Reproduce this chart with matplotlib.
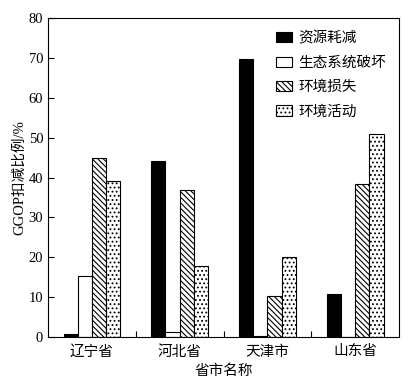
import numpy as np
import matplotlib
matplotlib.use('Agg')
import matplotlib.pyplot as plt

plt.rcParams['font.family'] = ['Liberation Serif', 'Noto Sans CJK SC']
plt.rcParams['hatch.linewidth'] = 0.8

provinces = ['辽宁省', '河北省', '天津市', '山东省']
series = ['资源耗减', '生态系统破坏', '环境损失', '环境活动']
resource = [0.8, 44.2, 69.7, 10.8]
ecology = [15.3, 1.3, 0.2, 0.0]
env_loss = [44.8, 36.8, 10.3, 38.4]
env_act = [39.2, 17.8, 20.1, 51.0]

values = [resource, ecology, env_loss, env_act]
faces = ['black', 'white', 'white', 'white']
hatches = [None, None, '\\' * 6, '....']

fig = plt.figure(figsize=(4.11, 3.86), dpi=100)
ax = fig.add_axes([0.117, 0.127, 0.854, 0.826])

x = np.arange(len(provinces))
w = 0.162
for i, vals in enumerate(values):
    ax.bar(x + (i - 1.5) * w, vals, w, color=faces[i], edgecolor='black',
           hatch=hatches[i], linewidth=0.8, label=series[i])

ax.set_xlim(-0.5, 3.5)
ax.set_ylim(0, 80)
ax.set_yticks(range(0, 81, 10))
ax.set_xticks(x)
ax.set_xticklabels(provinces, fontsize=10.5)
ax.set_xticks([0.5, 1.5, 2.5], minor=True)
ax.tick_params(axis='x', which='major', length=0, pad=6)
ax.tick_params(axis='x', which='minor', direction='in', length=4, width=0.8)
ax.tick_params(axis='y', direction='in', length=4, width=0.8, labelsize=10.5)
for s in ax.spines.values():
    s.set_linewidth(0.8)

ax.set_ylabel('GGOP扣减比例/%', fontsize=10.5, labelpad=2)
ax.set_xlabel('省市名称', fontsize=10.5, labelpad=4)

ax.legend(loc='upper right', frameon=False, fontsize=10.5, handlelength=1.1,
          handleheight=0.7, labelspacing=0.75, handletextpad=0.4,
          bbox_to_anchor=(1.0, 1.0))

fig.savefig('out.png', dpi=100)
